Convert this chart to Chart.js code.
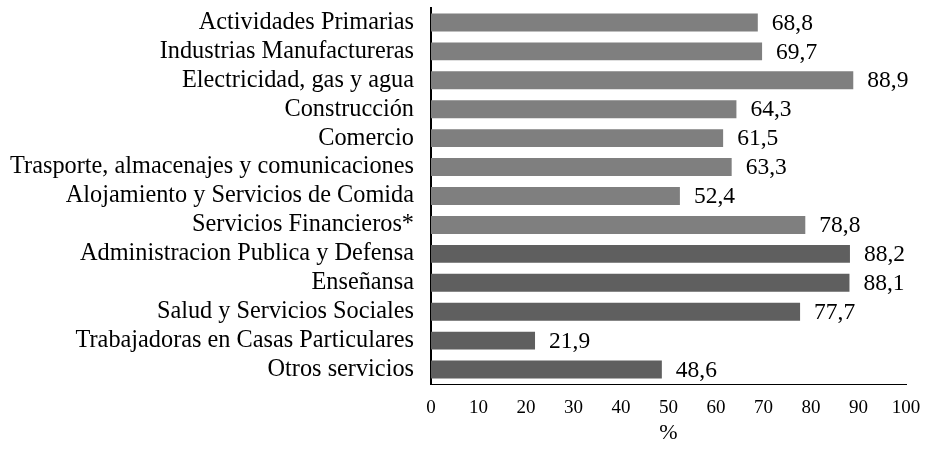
<!DOCTYPE html>
<html>
<head>
<meta charset="utf-8">
<script src="https://cdn.jsdelivr.net/npm/chart.js@4/dist/chart.umd.min.js"></script>
<style>
  html, body { margin: 0; padding: 0; background: #fff; }
  #wrap { width: 927px; height: 450px; }
</style>
</head>
<body>
<div id="wrap"><canvas id="sectorChart" width="927" height="450"></canvas></div>
<script>
const sectores = [
    'Actividades Primarias',
    'Industrias Manufactureras',
    'Electricidad, gas y agua',
    'Construcción',
    'Comercio',
    'Trasporte, almacenajes y comunicaciones',
    'Alojamiento y Servicios de Comida',
    'Servicios Financieros*',
    'Administracion Publica y Defensa',
    'Enseñansa',
    'Salud y Servicios Sociales',
    'Trabajadoras en Casas Particulares',
    'Otros servicios'
];
const porcentajes = [68.8, 69.7, 88.9, 64.3, 61.5, 63.3, 52.4, 78.8, 88.2, 88.1, 77.7, 21.9, 48.6];
const xTicks = [0, 10, 20, 30, 40, 50, 60, 70, 80, 90, 100];

const serif = '"Liberation Serif", "Times New Roman", serif';
const barColors = porcentajes.map((v, i) => i < 8 ? '#7f7f7f' : '#5f5f5f');

// etiquetas de valor a la derecha de cada barra
const valueLabels = {
    id: 'valueLabels',
    afterDatasetsDraw(chart) {
        const ctx = chart.ctx;
        const meta = chart.getDatasetMeta(0);
        ctx.save();
        ctx.font = '23.5px ' + serif;
        ctx.fillStyle = '#000';
        ctx.textBaseline = 'middle';
        ctx.textAlign = 'left';
        meta.data.forEach((bar, i) => {
            const txt = porcentajes[i].toFixed(1).replace('.', ',');
            ctx.fillText(txt, bar.x + 14, bar.y + 1);
        });
        ctx.restore();
    }
};

new Chart(document.getElementById('sectorChart').getContext('2d'), {
    type: 'bar',
    data: {
        labels: sectores,
        datasets: [{
            data: porcentajes,
            backgroundColor: barColors,
            borderWidth: 0,
            barPercentage: 0.62,
            categoryPercentage: 1
        }]
    },
    options: {
        indexAxis: 'y',
        responsive: false,
        animation: false,
        layout: { padding: { top: 8, right: 21, left: 0, bottom: 0 } },
        plugins: { legend: { display: false }, tooltip: { enabled: false } },
        scales: {
            x: {
                min: 0, max: 100,
                afterBuildTicks: (s) => { s.ticks = xTicks.map(v => ({ value: v })); },
                afterFit: (s) => { s.height = 66; s.paddingRight = 0; s.paddingLeft = 0; },
                grid: { display: false, drawTicks: false },
                border: { display: true, color: '#000', width: 1 },
                ticks: { color: '#000', padding: 13, font: { family: serif, size: 19 } },
                title: { display: true, text: '%', color: '#000', padding: { top: 6 }, font: { family: serif, size: 22 } }
            },
            y: {
                afterFit: (s) => { s.width = 431; s.paddingTop = 0; s.paddingBottom = 0; },
                grid: { display: false, drawTicks: false },
                border: { display: true, color: '#000', width: 2 },
                ticks: { color: '#000', padding: 17, autoSkip: false, font: { family: serif, size: 24.3 } }
            }
        }
    },
    plugins: [valueLabels]
});
</script>
</body>
</html>
